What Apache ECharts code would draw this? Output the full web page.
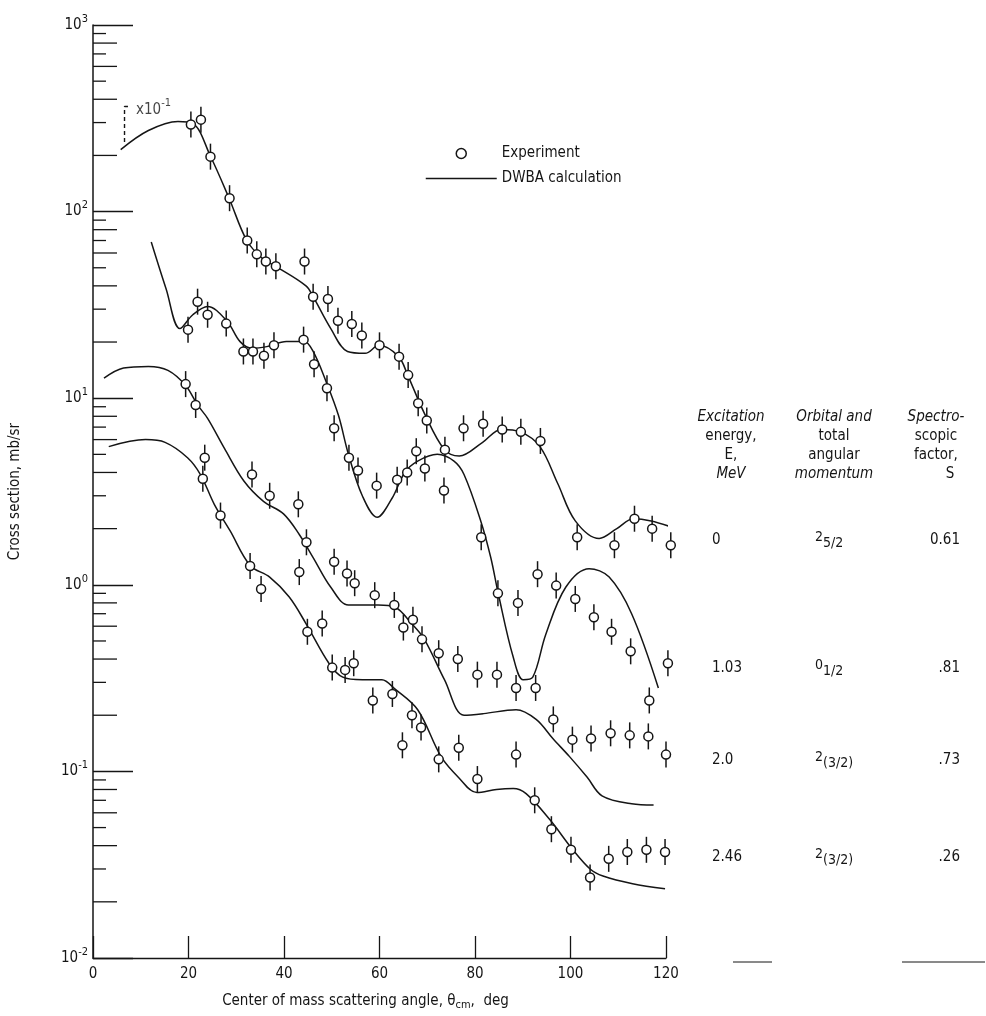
<!DOCTYPE html>
<html>
<head>
<meta charset="utf-8">
<title>Cross section vs. center of mass scattering angle</title>
<script src="https://cdn.jsdelivr.net/npm/echarts/dist/echarts.min.js"></script>
<style>
  html, body { margin: 0; padding: 0; background: #fff; }
  #chart { width: 986px; height: 1016px; }
</style>
</head>
<body>
<div id="chart"></div>
<script>
// ---- Measured cross sections [angle (deg), mb/sr] ----
// Ground state, plotted with a factor of 10^-1
const exp0 = [
  [20.5, 293], [22.6, 311], [24.6, 197], [28.6, 118], [32.3, 70], [34.3, 59],
  [36.2, 54], [38.3, 51], [44.3, 54], [46.1, 35], [49.2, 34], [51.3, 26],
  [54.2, 25], [56.3, 21.7], [60.0, 19.2], [64.1, 16.7], [66.0, 13.3], [68.1, 9.4],
  [69.9, 7.6], [73.7, 5.3], [77.6, 6.9], [81.7, 7.3], [85.7, 6.8], [89.6, 6.6],
  [93.7, 5.9], [101.4, 1.8], [109.2, 1.63], [113.4, 2.26], [117.1, 2.0], [121.0, 1.63]
];
// 1.03 MeV level
const exp103 = [
  [19.9, 23.3], [21.9, 32.9], [24.0, 28], [27.9, 25.1], [31.5, 17.8], [33.5, 17.8],
  [35.8, 16.9], [37.9, 19.2], [44.1, 20.6], [46.3, 15.2], [49.0, 11.3], [50.5, 6.9],
  [53.6, 4.8], [55.5, 4.1], [59.4, 3.4], [63.7, 3.66], [65.8, 4.0], [67.7, 5.2],
  [69.5, 4.2], [73.5, 3.2], [81.3, 1.8], [84.8, 0.90], [89.0, 0.80], [93.1, 1.14],
  [97.0, 0.99], [101.0, 0.84], [104.9, 0.67], [108.6, 0.56], [112.6, 0.44],
  [116.5, 0.24], [120.4, 0.38]
];
// 2.0 MeV level
const exp20 = [
  [19.4, 11.9], [21.5, 9.2], [33.3, 3.9], [37.0, 3.0], [43.0, 2.7], [44.7, 1.69],
  [50.5, 1.33], [53.2, 1.15], [54.8, 1.02], [59.0, 0.88], [63.1, 0.78], [65.0, 0.59],
  [67.0, 0.65], [68.9, 0.51], [72.4, 0.43], [76.4, 0.40], [80.5, 0.33], [84.6, 0.33],
  [88.6, 0.28], [92.7, 0.28], [96.4, 0.19], [100.4, 0.148], [104.3, 0.15],
  [108.4, 0.16], [112.4, 0.156], [116.3, 0.154], [120.0, 0.123]
];
// 2.46 MeV level
const exp246 = [
  [23.4, 4.8], [23.0, 3.7], [26.7, 2.35], [32.9, 1.26], [35.2, 0.95], [43.2, 1.17],
  [44.9, 0.56], [48.0, 0.62], [50.1, 0.36], [52.8, 0.35], [54.6, 0.38], [58.6, 0.24],
  [62.7, 0.26], [64.8, 0.138], [66.8, 0.20], [68.7, 0.172], [72.4, 0.116],
  [76.6, 0.134], [80.5, 0.091], [88.6, 0.123], [92.5, 0.070], [96.0, 0.049],
  [100.1, 0.038], [104.1, 0.027], [108.0, 0.034], [111.9, 0.037], [115.9, 0.038],
  [119.8, 0.037]
];

// ---- DWBA calculations [angle (deg), mb/sr] ----
const dwba0 = [
  [5.8, 215], [11.6, 272], [17.8, 304], [20.9, 297], [24.6, 198], [28.5, 118],
  [32.2, 70], [35.5, 56], [38.2, 51], [44.6, 40], [46.1, 35], [49.8, 23.6],
  [53.3, 17.8], [57.0, 17.4], [59.9, 19.2], [64.0, 16.7], [65.9, 13.3], [69.4, 8.3],
  [73.6, 5.3], [76.7, 4.9], [81.6, 5.8], [85.5, 6.8], [89.5, 6.6], [93.6, 5.5],
  [97.3, 3.5], [101.0, 2.2], [106.0, 1.77], [109.7, 2.0], [113.2, 2.26],
  [116.9, 2.2], [120.9, 2.05]
];
const dwba103 = [
  [12.2, 68.7], [15.3, 38.6], [18.2, 23.6], [20.9, 28], [24.0, 31], [28.1, 25.8],
  [30.8, 20.1], [33.3, 18.5], [36.4, 18.9], [40.5, 20.1], [44.2, 20.1], [46.1, 17.8],
  [48.8, 12.3], [51.4, 8.1], [53.5, 5.0], [56.4, 3.0], [59.5, 2.3], [62.6, 2.9],
  [65.3, 4.0], [68.0, 4.6], [72.1, 5.0], [75.6, 4.6], [77.7, 3.9], [81.2, 2.2],
  [83.3, 1.4], [84.9, 0.89], [88.0, 0.41], [90.1, 0.31], [92.1, 0.32], [94.8, 0.54],
  [99.0, 0.97], [103.9, 1.22], [108.1, 1.1], [112.8, 0.70], [118.4, 0.28]
];
const dwba20 = [
  [2.3, 12.8], [6.4, 14.5], [11.6, 14.8], [15.7, 14.1], [19.4, 11.7], [21.9, 9.2],
  [24.0, 7.8], [27.5, 5.4], [31.6, 3.6], [35.7, 2.8], [39.9, 2.4], [43.2, 1.86],
  [46.1, 1.40], [49.8, 0.97], [53.5, 0.78], [59.7, 0.78], [63.2, 0.76], [66.7, 0.62],
  [69.4, 0.51], [73.6, 0.31], [77.7, 0.20], [81.8, 0.204], [88.6, 0.214],
  [92.8, 0.19], [96.3, 0.15], [99.8, 0.12], [103.5, 0.093], [106.6, 0.074],
  [112.8, 0.067], [117.4, 0.066]
];
const dwba246 = [
  [3.3, 5.5], [11.0, 6.0], [15.1, 5.8], [19.8, 4.8], [22.5, 3.9], [25.4, 2.7],
  [28.7, 1.95], [32.9, 1.27], [37.0, 1.10], [41.1, 0.86], [44.6, 0.62], [49.4, 0.38],
  [52.3, 0.32], [56.4, 0.31], [60.5, 0.31], [63.2, 0.277], [68.0, 0.214],
  [72.9, 0.12], [76.7, 0.092], [80.4, 0.077], [84.5, 0.080], [88.0, 0.081],
  [90.7, 0.076], [95.7, 0.055], [100.5, 0.038], [104.1, 0.030], [106.8, 0.0275],
  [113.0, 0.025], [119.8, 0.0235]
];

// x10^-1 bracket on the ground-state curve
const scaleBracket = [[6.6, 236], [6.6, 366], [7.8, 366]];
const scaleNote = [[8.9, 352]];

// Axis ticks and labels
const xTicks = [0, 20, 40, 60, 80, 100, 120];
const decades = [0.01, 0.1, 1, 10, 100];
const mantissas = [2, 3, 4, 5, 6, 7, 8, 9];

// Table on the right
const tableHeads = [
  { lines: ['Excitation', 'energy,', 'E,', 'MeV'], italic: [true, false, false, true] },
  { lines: ['Orbital and', 'total', 'angular', 'momentum'], italic: [true, false, false, true] },
  { lines: ['Spectro-', 'scopic', 'factor,', 'S'], italic: [true, false, false, false] }
];
const energies = ['0', '1.03', '2.0', '2.46'];
const momenta = [['2', '5/2'], ['0', '1/2'], ['2', '(3/2)'], ['2', '(3/2)']];
const factors = ['0.61', '.81', '.73', '.26'];

const FONT = '"Liberation Sans Narrow", "DejaVu Sans Condensed", "Noto Sans", sans-serif';
const INK = '#151515';

const minorTickValues = [];
decades.forEach(d => mantissas.forEach(m => minorTickValues.push([0, +(m * d).toPrecision(3), m])));

const chart = echarts.init(document.getElementById('chart'), null, { renderer: 'canvas' });

// open circle with a vertical error bar
function renderPoint(params, api) {
  const p = api.coord([api.value(0), api.value(1)]);
  return {
    type: 'group',
    children: [
      { type: 'line', shape: { x1: p[0], y1: p[1] - 13, x2: p[0], y2: p[1] + 13 },
        style: { stroke: INK, lineWidth: 1.5 } },
      { type: 'circle', shape: { cx: p[0], cy: p[1], r: 4.5 },
        style: { fill: '#fff', stroke: INK, lineWidth: 1.5 } }
    ]
  };
}

// intermediate log-axis ticks: longer at 2, 4, 6, 8
function renderMinorTick(params, api) {
  const p = api.coord([api.value(0), api.value(1)]);
  const len = api.value(2) % 2 === 0 ? 24 : 13;
  return { type: 'line', shape: { x1: p[0], y1: p[1], x2: p[0] + len, y2: p[1] },
           style: { stroke: INK, lineWidth: 1.3 } };
}

const curve = (data) => ({
  name: 'DWBA calculation', type: 'line', data, symbol: 'none', showSymbol: false,
  smooth: 0.35, clip: false, silent: true,
  lineStyle: { color: INK, width: 1.5 }, itemStyle: { color: INK }, z: 2
});
const points = (data) => ({
  name: 'Experiment', type: 'custom', data, renderItem: renderPoint, clip: false,
  encode: { x: 0, y: 1 }, silent: true,
  itemStyle: { color: '#fff', borderColor: INK, borderWidth: 1.5 }, z: 3
});

const option = {
  backgroundColor: '#fff',
  animation: false,
  textStyle: { fontFamily: FONT, color: INK },
  grid: { left: 86, right: 320, top: 25, bottom: 54, containLabel: false },
  legend: {
    left: 420, top: 141, orient: 'vertical', itemWidth: 71, itemHeight: 10, itemGap: 10,
    selectedMode: false,
    textStyle: { fontFamily: FONT, fontSize: 15, color: INK },
    data: [
      { name: 'Experiment', icon: 'circle',
        itemStyle: { color: '#fff', borderColor: INK, borderWidth: 1.5 } },
      { name: 'DWBA calculation',
        itemStyle: { opacity: 0 },
        lineStyle: { color: INK, width: 1.5, opacity: 1 } }
    ]
  },
  xAxis: {
    type: 'value', min: xTicks[0], max: xTicks[xTicks.length - 1], interval: 20,
    name: 'Center of mass scattering angle, θ{sub|cm},  deg',
    nameLocation: 'middle', nameGap: 33,
    nameTextStyle: {
      fontFamily: FONT, fontSize: 15, color: INK, padding: [0, 28, 0, 0],
      rich: { sub: { fontFamily: FONT, fontSize: 11, color: INK, padding: [9, 0, 0, 0] } }
    },
    axisLine: { show: true, lineStyle: { color: INK, width: 1.3 } },
    axisTick: { show: true, inside: true, length: 22, lineStyle: { color: INK, width: 1.3 } },
    axisLabel: { fontFamily: FONT, fontSize: 15, color: INK, margin: 9 },
    splitLine: { show: false }
  },
  yAxis: {
    type: 'log', logBase: 10, min: decades[0], max: 1000,
    name: 'Cross section, mb/sr', nameLocation: 'middle', nameGap: 70, nameRotate: 90,
    nameTextStyle: { fontFamily: FONT, fontSize: 15, color: INK },
    axisLine: { show: true, lineStyle: { color: INK, width: 1.5 } },
    axisTick: { show: true, inside: true, length: 40, lineStyle: { color: INK, width: 1.3 } },
    axisLabel: {
      margin: 5,
      formatter: (v) => '{b|10}{s|' + Math.round(Math.log10(v)) + '}',
      rich: {
        b: { fontFamily: FONT, fontSize: 15, color: INK },
        s: { fontFamily: FONT, fontSize: 11, color: INK, padding: [0, 0, 12, 0] }
      }
    },
    splitLine: { show: false }
  },
  series: [
    curve(dwba0), curve(dwba103), curve(dwba20), curve(dwba246),
    points(exp0), points(exp103), points(exp20), points(exp246),
    {
      name: 'minor ticks', type: 'custom', data: minorTickValues, renderItem: renderMinorTick,
      encode: { x: 0, y: 1 }, clip: false, silent: true, z: 1
    },
    {
      name: 'scale factor', type: 'line', data: scaleBracket, symbol: 'none', clip: false,
      silent: true, lineStyle: { color: INK, width: 1.4, type: [4, 3] }, z: 2
    },
    {
      name: 'scale factor label', type: 'scatter', data: scaleNote, symbolSize: 1,
      itemStyle: { color: 'rgba(0,0,0,0)' }, silent: true,
      label: {
        show: true, position: 'right', distance: 0,
        formatter: 'x10{s|-1}',
        fontFamily: FONT, fontSize: 15, color: INK,
        rich: { s: { fontFamily: FONT, fontSize: 11, color: INK, padding: [0, 0, 12, 0] } }
      }
    }
  ],
  graphic: []
};

// Table of level parameters
const colX = [731, 834, 936];
const headY = [417, 436, 455, 474];
const rowY = [540, 668, 760, 857];
const g = [];
tableHeads.forEach((col, ci) => {
  col.lines.forEach((t, li) => {
    g.push({
      type: 'text', silent: true,
      x: (ci === 2 && li === 3) ? 950 : colX[ci], y: headY[li],
      style: {
        text: t, align: 'center', verticalAlign: 'middle', fill: INK,
        font: (col.italic[li] ? 'italic ' : '') + '15px ' + FONT
      }
    });
  });
});
rowY.forEach((y, ri) => {
  g.push({ type: 'text', silent: true, x: 712, y,
    style: { text: energies[ri], align: 'left', verticalAlign: 'middle', fill: INK, font: '15px ' + FONT } });
  g.push({ type: 'text', silent: true, x: 815, y: y - 3,
    style: {
      text: '{m|' + momenta[ri][0] + '}{j|' + momenta[ri][1] + '}',
      align: 'left', verticalAlign: 'middle', fill: INK,
      rich: {
        m: { fontFamily: FONT, fontSize: 14, fill: INK },
        j: { fontFamily: FONT, fontSize: 14, fill: INK, padding: [12, 0, 0, 0] }
      }
    } });
  g.push({ type: 'text', silent: true, x: 960, y,
    style: { text: factors[ri], align: 'right', verticalAlign: 'middle', fill: INK, font: '15px ' + FONT } });
});
// bottom rules under the table columns
g.push({ type: 'line', silent: true, shape: { x1: 733, y1: 962, x2: 772, y2: 962 },
  style: { stroke: INK, lineWidth: 1 } });
g.push({ type: 'line', silent: true, shape: { x1: 902, y1: 962, x2: 985, y2: 962 },
  style: { stroke: INK, lineWidth: 1 } });
option.graphic = g;

chart.setOption(option);
</script>
</body>
</html>
